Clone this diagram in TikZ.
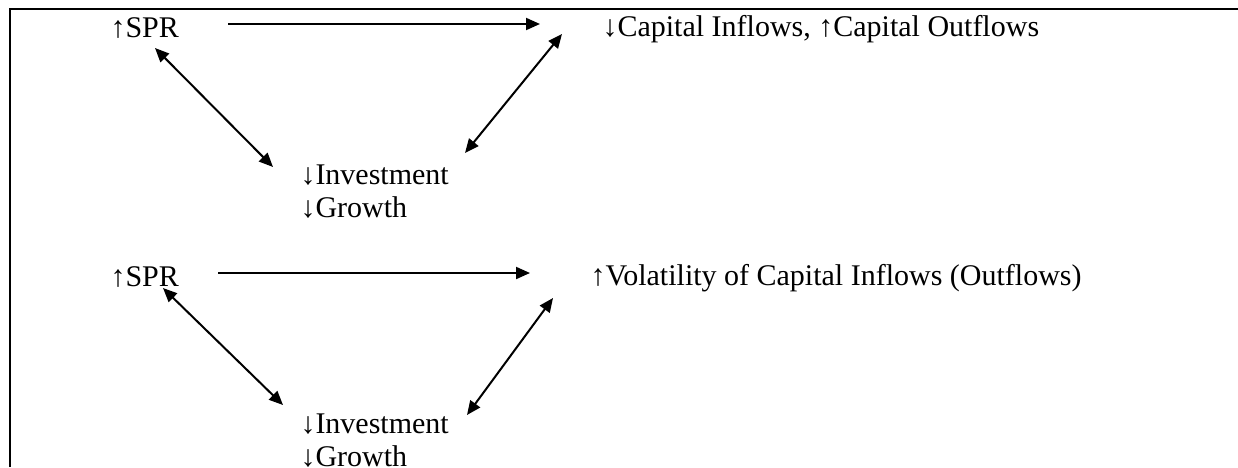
\documentclass[tikz,border=0pt]{standalone}
\usepackage{fontspec}
\setmainfont{Liberation Serif}
\usetikzlibrary{arrows.meta}

\begin{document}
\begin{tikzpicture}[x=0.4pt,y=-0.4pt,
        lbl/.style={inner sep=0pt,anchor=base west,align=left,
            font=\fontsize{12}{13.2}\selectfont},
        onearrow/.style={line width=0.8pt,-{Triangle[length=5.6pt,width=4.8pt]}},
        twoarrow/.style={line width=0.8pt,
            {Triangle[length=5.6pt,width=4.8pt]}-{Triangle[length=5.6pt,width=4.8pt]}}]
        \useasboundingbox (0,0) rectangle (1238,467);

        % Draw the frame
        \draw[line width=0.8pt] (10,467) -- (10,9) -- (1238,9);

        % Draw the upper diagram
        \node[lbl] (sprA) at (110,37) {↑SPR};
        \node[lbl] (capA) at (602,36) {↓Capital Inflows, ↑Capital Outflows};
        \node[lbl] (invA) at (300,217) {↓Investment\\↓Growth};
        \draw[onearrow] ([shift={(118,-13)}]sprA.base west) -- ([shift={(-62,-12)}]capA.base west);
        \draw[twoarrow] ([shift={(45,11)}]sprA.base west) -- ([shift={(-27,-50)}]invA.base west);
        \draw[twoarrow] ([shift={(-40,-2)}]capA.base west) -- ([shift={(165,-64)}]invA.base west);

        % Draw the lower diagram
        \node[lbl] (sprB) at (110,286) {↑SPR};
        \node[lbl] (volB) at (590,285) {↑Volatility of Capital Inflows (Outflows)};
        \node[lbl] (invB) at (300,466) {↓Investment\\↓Growth};
        \draw[onearrow] ([shift={(108,-13)}]sprB.base west) -- ([shift={(-60,-12)}]volB.base west);
        \draw[twoarrow] ([shift={(53,2)}]sprB.base west) -- ([shift={(-17,-61)}]invB.base west);
        \draw[twoarrow] ([shift={(-37,13)}]volB.base west) -- ([shift={(167,-51)}]invB.base west);
    \end{tikzpicture}
\end{document}
